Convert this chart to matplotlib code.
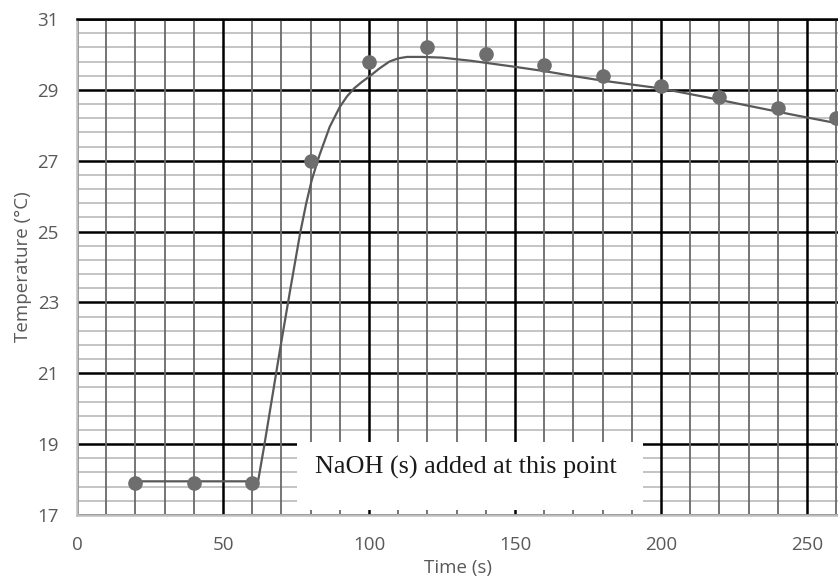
import numpy as np
import matplotlib
matplotlib.use("Agg")
import matplotlib.pyplot as plt
from matplotlib.ticker import MultipleLocator, FixedLocator
from matplotlib.patches import Rectangle

# measured points
time_s = [20, 40, 60, 80, 100, 120, 140, 160, 180, 200, 220, 240, 260]
temp_c = [17.9, 17.9, 17.9, 27.0, 29.8, 30.2, 30.0, 29.7, 29.4, 29.1, 28.8, 28.5, 28.2]

# hand-drawn best fit curve
curve_t = [20, 62, 64, 66, 69.5, 73, 76.4, 78.5, 80.4, 83, 86.5, 90, 92.5, 95,
           97.5, 100, 103.5, 107, 110, 113, 118, 125, 135, 150, 160, 170, 180,
           190, 200, 215, 230, 245, 262]
curve_c = [17.95, 17.95, 18.9, 19.9, 21.66, 23.35, 24.95, 25.8, 26.46, 27.15,
           27.95, 28.52, 28.82, 29.05, 29.22, 29.37, 29.6, 29.8, 29.89, 29.93,
           29.93, 29.91, 29.82, 29.65, 29.53, 29.39, 29.26, 29.15, 29.04, 28.8,
           28.55, 28.3, 28.03]

y_major = [17, 19, 21, 23, 25, 27, 29, 31]

note = "NaOH (s) added at this point"

plt.rcParams["font.family"] = ["Open Sans", "DejaVu Sans"]

fig = plt.figure(figsize=(8.38, 5.85), dpi=100)
ax = fig.add_axes([0.0919, 0.1197, 1.0 - 0.0919, 0.9675 - 0.1197])

ax.set_xlim(0, 260.6)
ax.set_ylim(17, 31)

ax.xaxis.set_major_locator(MultipleLocator(50))
ax.xaxis.set_minor_locator(MultipleLocator(10))
ax.yaxis.set_major_locator(FixedLocator(y_major))
ax.yaxis.set_minor_locator(FixedLocator(np.arange(17, 31.01, 0.4)))

# graph paper look
ax.set_axisbelow(True)
ax.yaxis.set_zorder(0.4)
ax.xaxis.set_zorder(0.5)
ax.grid(which="minor", axis="y", color="#c4c4c4", lw=1.4)
ax.grid(which="major", axis="y", color="black", lw=1.8)
ax.grid(which="minor", axis="x", color="#6a6a6a", lw=1.3)
ax.grid(which="major", axis="x", color="black", lw=1.8)

ax.tick_params(which="both", length=0)
ax.tick_params(axis="x", pad=15, labelsize=13.5, labelcolor="#595959")
ax.tick_params(axis="y", pad=13, labelsize=13.5, labelcolor="#595959")

for side in ["left", "bottom"]:
    ax.spines[side].set_color("#bfbfbf")
    ax.spines[side].set_linewidth(1.8)
ax.spines["top"].set_color("black")
ax.spines["top"].set_linewidth(1.8)
ax.spines["right"].set_visible(False)

ax.plot(curve_t, curve_c, color="#595959", lw=1.6, zorder=3)
ax.plot(time_s, temp_c, "o", color="#6e6e6e", ms=9.5, zorder=4)

# white label box over the grid
ax.add_patch(Rectangle((75.4, 17.14), 118.4, 1.91, facecolor="white",
                       edgecolor="none", zorder=2))
ax.text(133.0, 18.35, note, family="Liberation Serif", fontsize=18.8,
        color="#1a1a1a", ha="center", va="center", zorder=3)

ax.set_xlabel("Time (s)", fontsize=13.5, color="#595959", labelpad=4)
ax.set_ylabel("Temperature (°C)", fontsize=13.5, color="#595959", labelpad=4)

fig.savefig("out.png", dpi=100)
